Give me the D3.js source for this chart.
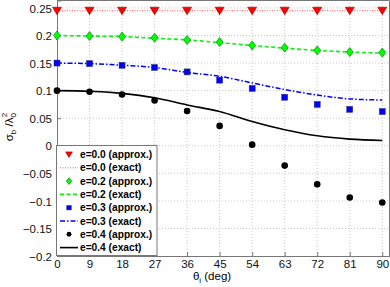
<!DOCTYPE html>
<html>
<head>
<meta charset="utf-8">
<script src="https://cdn.jsdelivr.net/npm/d3@7"></script>
<style>
  body { margin: 0; background: #fff; }
  text { font-family: "Liberation Sans", Arial, sans-serif; }
</style>
</head>
<body>
<div id="chart"></div>
<script>
const angles = [0, 9, 18, 27, 36, 45, 54, 63, 72, 81, 90];
const xTicks = [0, 9, 18, 27, 36, 45, 54, 63, 72, 81, 90];
const yTicks = [-0.2, -0.15, -0.1, -0.05, 0, 0.05, 0.1, 0.15, 0.2, 0.25];

const e00Approx = [0.245, 0.245, 0.245, 0.245, 0.245, 0.245, 0.245, 0.245, 0.245, 0.245, 0.245];
const e00Exact  = [0.245, 0.245, 0.245, 0.245, 0.245, 0.245, 0.245, 0.245, 0.245, 0.245, 0.245];
const e02Approx = [0.200, 0.199, 0.198, 0.196, 0.192, 0.188, 0.182, 0.178, 0.173, 0.170, 0.169];
const e02Exact  = [0.200, 0.199, 0.198, 0.195, 0.192, 0.187, 0.182, 0.177, 0.173, 0.170, 0.168];
const e03Approx = [0.150, 0.149, 0.146, 0.142, 0.134, 0.119, 0.104, 0.088, 0.075, 0.066, 0.062];
const e03Exact  = [0.150, 0.149, 0.146, 0.142, 0.133, 0.126, 0.114, 0.102, 0.092, 0.085, 0.083];
const e04Approx = [0.100, 0.098, 0.093, 0.082, 0.063, 0.036, 0.002, -0.036, -0.070, -0.094, -0.103];
const e04Exact  = [0.100, 0.099, 0.095, 0.087, 0.074, 0.062, 0.044, 0.029, 0.018, 0.012, 0.0096];

const width = 390, height = 287;
const svg = d3.select('#chart').append('svg')
    .attr('width', width)
    .attr('height', height);

const x = d3.scaleLinear().domain([0, 92]).range([57, 389.5]);
const y = d3.scaleLinear().domain([-0.2, 0.2635]).range([256, 0.5]);

// grid
svg.append('g').selectAll('line').data(xTicks.slice(1)).join('line')
    .attr('x1', d => x(d)).attr('x2', d => x(d))
    .attr('y1', y.range()[0]).attr('y2', y.range()[1])
    .attr('stroke', '#bbb').attr('stroke-width', 0.8).attr('stroke-dasharray', '1,2');
svg.append('g').selectAll('line').data(yTicks.slice(1)).join('line')
    .attr('x1', x.range()[0]).attr('x2', x.range()[1])
    .attr('y1', d => y(d)).attr('y2', d => y(d))
    .attr('stroke', '#bbb').attr('stroke-width', 0.8).attr('stroke-dasharray', '1,2');

// axes
const xAxis = svg.append('g')
    .attr('transform', `translate(0,${y.range()[0]})`)
    .call(d3.axisBottom(x).tickValues(xTicks).tickSize(-4).tickPadding(4).tickFormat(d3.format('d')));
const yAxis = svg.append('g')
    .attr('transform', `translate(${x.range()[0]},0)`)
    .call(d3.axisLeft(y).tickValues(yTicks).tickSize(-4).tickPadding(5)
        .tickFormat(d => d === 0 ? '0' : String(d).replace('-', '\u2212')));
[xAxis, yAxis].forEach(g => {
    g.selectAll('path, line').attr('stroke', '#777');
    g.selectAll('text').attr('font-size', 11.5).attr('fill', '#111');
});
yAxis.selectAll('text').attr('dy', '0.36em');

// top / right frame
svg.append('line').attr('x1', x.range()[0]).attr('x2', x.range()[1]).attr('y1', y.range()[1]).attr('y2', y.range()[1]).attr('stroke', '#777');
svg.append('line').attr('x1', x.range()[1]).attr('x2', x.range()[1]).attr('y1', y.range()[0]).attr('y2', y.range()[1]).attr('stroke', '#777');

const line = d3.line().x((d, i) => x(angles[i])).y(d => y(d)).curve(d3.curveMonotoneX);

const series = [
    {approx: e00Approx, exact: e00Exact, label: 'e=0.0', color: '#f00', edge: '#900', lineColor: '#f55', dash: '1,1.5', lw: 1, shape: 'tri'},
    {approx: e02Approx, exact: e02Exact, label: 'e=0.2', color: '#0f0', edge: '#080', lineColor: '#1e1', dash: '4,2.5', lw: 1.6, shape: 'diamond'},
    {approx: e03Approx, exact: e03Exact, label: 'e=0.3', color: '#00f', edge: '#336', lineColor: '#00f', dash: '5,2,1.5,2', lw: 1.5, shape: 'square'},
    {approx: e04Approx, exact: e04Exact, label: 'e=0.4', color: '#000', edge: '#000', lineColor: '#000', dash: null, lw: 1.6, shape: 'circle'}
];

function marker(g, s, cx, cy, k) {
    k = k || 1;
    if (s.shape === 'tri') {
        g.append('path').attr('d', `M${cx - 4.5 * k},${cy - 3.5 * k}L${cx + 4.5 * k},${cy - 3.5 * k}L${cx},${cy + 4 * k}Z`)
            .attr('fill', s.color).attr('stroke', s.edge).attr('stroke-width', 0.6);
    } else if (s.shape === 'diamond') {
        g.append('path').attr('d', `M${cx},${cy - 4.5 * k}L${cx + 3.5 * k},${cy}L${cx},${cy + 4.5 * k}L${cx - 3.5 * k},${cy}Z`)
            .attr('fill', s.color).attr('stroke', s.edge).attr('stroke-width', 0.7);
    } else if (s.shape === 'square') {
        g.append('rect').attr('x', cx - 3 * k).attr('y', cy - 3 * k).attr('width', 6 * k).attr('height', 6 * k)
            .attr('fill', s.color).attr('stroke', s.edge).attr('stroke-width', 0.5);
    } else {
        g.append('circle').attr('cx', cx).attr('cy', cy).attr('r', 3.3 * k).attr('fill', s.color);
    }
}

series.forEach(s => {
    svg.append('path').datum(s.exact)
        .attr('d', line)
        .attr('fill', 'none')
        .attr('stroke', s.lineColor)
        .attr('stroke-width', s.lw)
        .attr('stroke-dasharray', s.dash);
});
series.forEach(s => {
    const g = svg.append('g');
    s.approx.forEach((v, i) => marker(g, s, x(angles[i]), y(v)));
});

// legend
const lg = svg.append('g');
lg.append('rect').attr('x', 56.5).attr('y', 145.5).attr('width', 100.5).attr('height', 110)
    .attr('fill', '#fff').attr('stroke', '#777');
series.forEach((s, k) => {
    const y1 = 154.5 + k * 26.6, y2 = y1 + 13.3;
    marker(lg, s, 69, y1, 0.75);
    lg.append('line').attr('x1', 60).attr('x2', 78).attr('y1', y2).attr('y2', y2)
        .attr('stroke', s.lineColor).attr('stroke-width', s.lw).attr('stroke-dasharray', s.dash);
    lg.append('text').attr('x', 80).attr('y', y1).attr('dy', '0.36em')
        .attr('font-size', 10.2).attr('font-weight', 'bold').text(s.label + ' (approx.)');
    lg.append('text').attr('x', 80).attr('y', y2).attr('dy', '0.36em')
        .attr('font-size', 10.2).attr('font-weight', 'bold').text(s.label + ' (exact)');
});

// axis labels
const xl = svg.append('text').attr('x', 212).attr('y', 280).attr('text-anchor', 'middle').attr('font-size', 11.5);
xl.append('tspan').text('\u03b8');
xl.append('tspan').attr('font-size', 8).attr('dy', 3).text('i');
xl.append('tspan').attr('dy', -3).text(' (deg)');

const yl = svg.append('text').attr('transform', 'translate(13,127) rotate(-90)').attr('text-anchor', 'middle').attr('font-size', 11.5);
yl.append('tspan').text('\u03c3');
yl.append('tspan').attr('font-size', 8).attr('dy', 3).text('b');
yl.append('tspan').attr('dy', -3).text(' /\u03bb');
yl.append('tspan').attr('font-size', 8).attr('dy', 3).text('0');
yl.append('tspan').attr('font-size', 8).attr('dx', -4).attr('dy', -9).text('2');
</script>
</body>
</html>
